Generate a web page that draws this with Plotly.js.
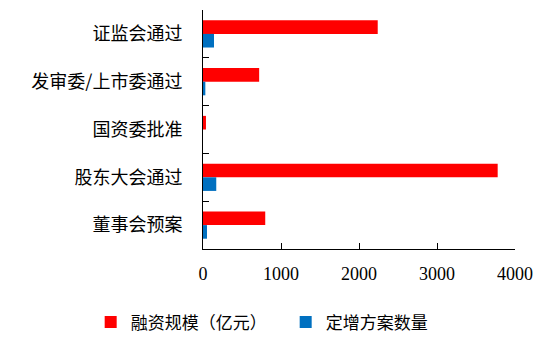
<!DOCTYPE html>
<html>
<head>
<meta charset="utf-8">
<script src="https://cdn.plot.ly/plotly-3.0.1.min.js"></script>
<style>html,body{margin:0;padding:0;background:#fff;}#chart{width:556px;height:351px;}</style>
</head>
<body>
<div id="chart"></div>
<script>
const categories = ["证监会通过", "发审委/上市委通过", "国资委批准", "股东大会通过", "董事会预案"];
const financing = [2240, 720, 38, 3778, 798];
const planCount = [141, 30, 0, 170, 51];
const seriesNames = ["融资规模（亿元）", "定增方案数量"];
const xTicks = [0, 1000, 2000, 3000, 4000];

const cjk = '"Noto Sans CJK SC", sans-serif';
const serif = '"Liberation Serif", "Times New Roman", serif';

const data = [
  {type: 'bar', orientation: 'h', name: seriesNames[0], y: categories, x: financing,
   marker: {color: '#ff0000'}},
  {type: 'bar', orientation: 'h', name: seriesNames[1], y: categories, x: planCount,
   marker: {color: '#0070c0'}}
];

const layout = {
  width: 556, height: 351,
  margin: {l: 203, r: 41, t: 10, b: 90},
  paper_bgcolor: '#fff', plot_bgcolor: '#fff',
  barmode: 'group', bargap: 0.43, bargroupgap: 0,
  showlegend: true,
  legend: {orientation: 'h', x: -0.36, xanchor: 'left', y: -0.307, yanchor: 'middle',
           font: {family: cjk, size: 17, color: '#000'}, itemwidth: 30,
           entrywidthmode: 'pixels', entrywidth: 150, traceorder: 'normal'},
  xaxis: {range: [0, 4000], tickvals: xTicks, showgrid: false, zeroline: false,
          showline: true, linecolor: '#000', linewidth: 1,
          ticks: 'inside', ticklen: 6, tickcolor: '#000',
          tickfont: {family: serif, size: 18, color: '#000'}, ticklabelstandoff: 8},
  yaxis: {autorange: 'reversed', type: 'category', showgrid: false, zeroline: false,
          showline: true, linecolor: '#000', linewidth: 1,
          ticks: 'inside', ticklen: 6, tickcolor: '#000', tickson: 'boundaries',
          tickfont: {family: cjk, size: 18, color: '#000'}, ticklabelstandoff: 16}
};

Plotly.newPlot('chart', data, layout, {displayModeBar: false, staticPlot: true});
</script>
</body>
</html>
